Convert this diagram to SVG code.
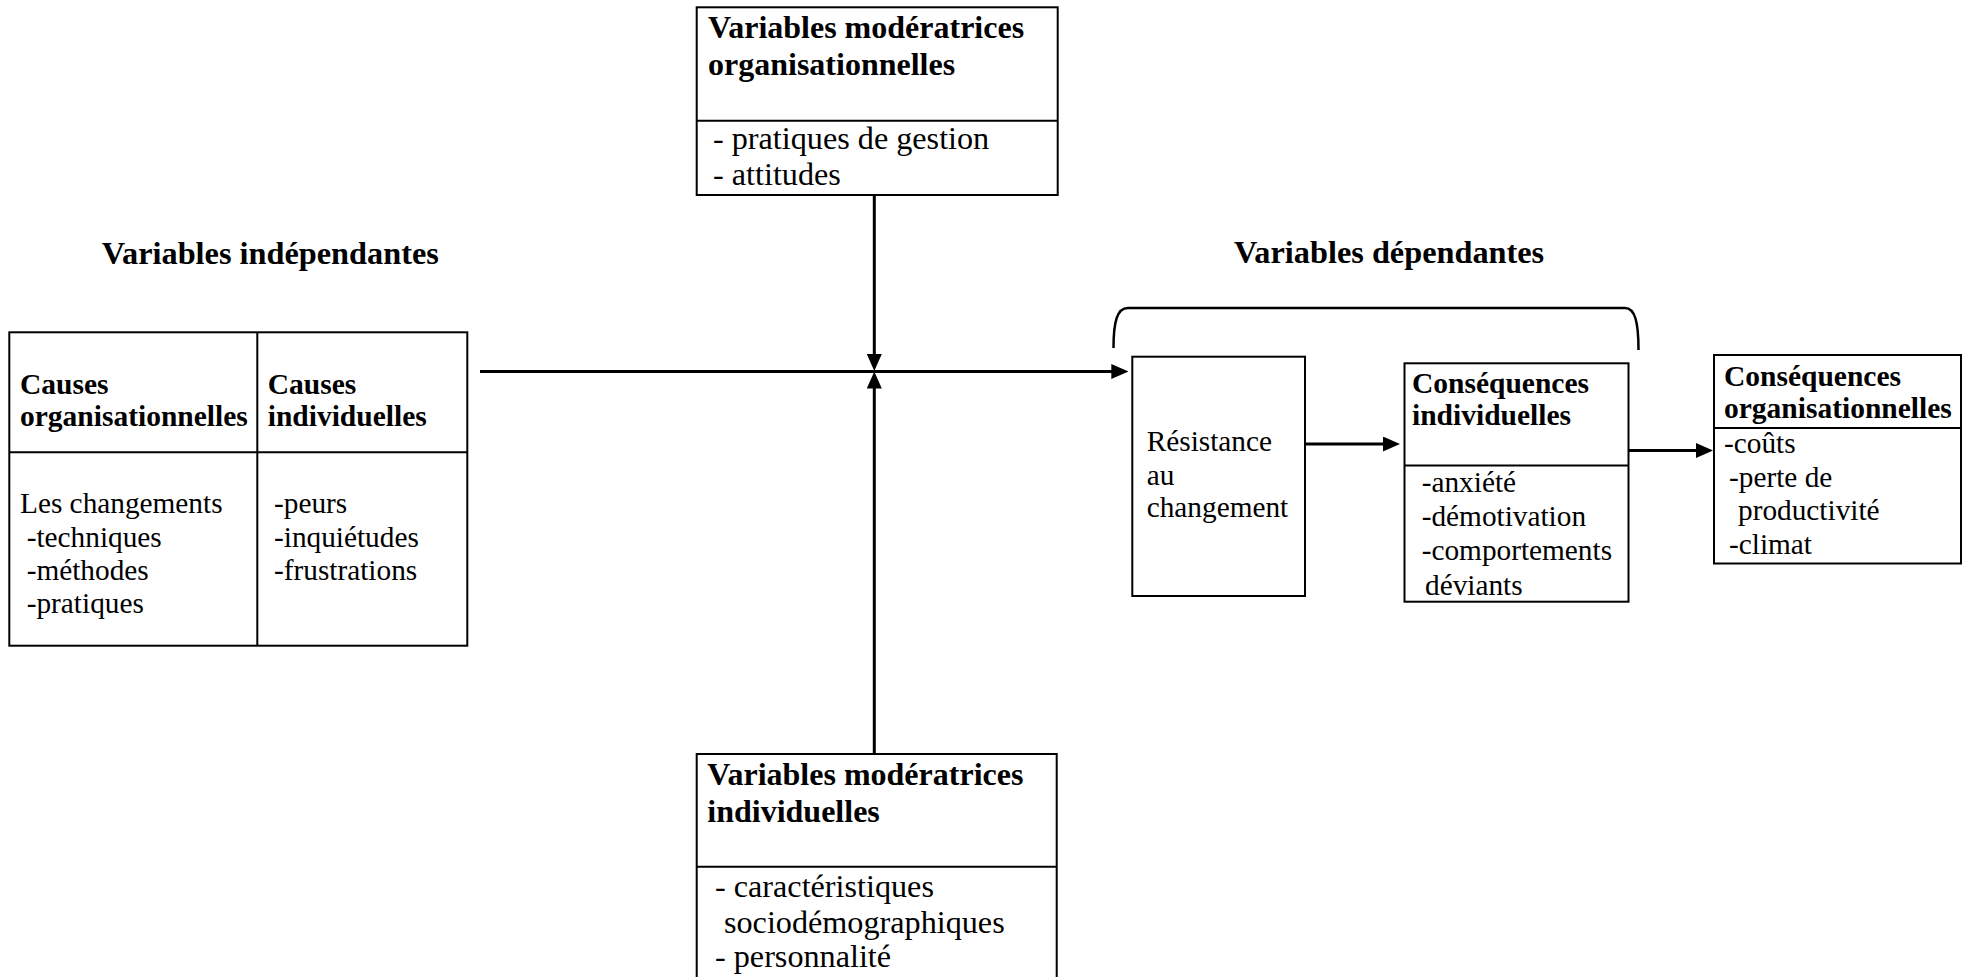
<svg xmlns="http://www.w3.org/2000/svg" width="1968" height="977" viewBox="0 0 1968 977">
  <defs>
    <style>
      .box { fill: #fff; stroke: #000; stroke-width: 2; }
      .div { stroke: #000; stroke-width: 2; fill: none; }
      .conn { stroke: #000; stroke-width: 3; fill: none; }
      .brace { stroke: #000; stroke-width: 2.5; fill: none; }
      text { font-family: "Liberation Serif", "Times New Roman", serif; fill: #000; }
      .title { font-weight: bold; font-size: 32.3px; }
      .hmid { font-weight: bold; font-size: 32px; }
      .bmid { font-size: 32.2px; }
      .hsm { font-weight: bold; font-size: 29.5px; }
      .bsm { font-size: 29.3px; }
    </style>
    <marker id="arrow" markerUnits="userSpaceOnUse" markerWidth="17" markerHeight="15" viewBox="0 0 17 15" refX="1" refY="7.5" orient="auto">
      <path d="M0,0 L17,7.5 L0,15 z" fill="#000"/>
    </marker>
  </defs>

  <rect width="1968" height="977" fill="#fff"/>

  <!-- section titles -->
  <text class="title" x="101.7" y="264">Variables indépendantes</text>
  <text class="title" x="1234" y="263.3">Variables dépendantes</text>

  <!-- brace over the dependent variables -->
  <path class="brace" d="M1113.5,348 C1113.5,322 1117,308 1128,308 L1625,308 C1635,308 1638.5,322 1638.5,350"/>

  <!-- connectors -->
  <g id="connectors">
    <path class="conn" d="M480,371.5 H1112.3" marker-end="url(#arrow)"/>
    <path class="conn" d="M874.3,195 V355" marker-end="url(#arrow)"/>
    <path class="conn" d="M874.3,754 V387.5" marker-end="url(#arrow)"/>
    <path class="conn" d="M1305,444 H1384" marker-end="url(#arrow)"/>
    <path class="conn" d="M1628.5,450.5 H1697" marker-end="url(#arrow)"/>
  </g>

  <!-- organisational moderating variables -->
  <g id="mod-org">
    <rect class="box" x="696.7" y="7.3" width="361" height="187.7"/>
    <line class="div" x1="696.7" y1="120.7" x2="1057.7" y2="120.7"/>
    <text class="hmid" x="708" y="38">Variables modératrices</text>
    <text class="hmid" x="708" y="74.5">organisationnelles</text>
    <text class="bmid" x="713" y="149">- pratiques de gestion</text>
    <text class="bmid" x="713" y="185">- attitudes</text>
  </g>

  <!-- individual moderating variables -->
  <g id="mod-ind">
    <rect class="box" x="696.7" y="754" width="360" height="300"/>
    <line class="div" x1="696.7" y1="866.7" x2="1056.7" y2="866.7"/>
    <text class="hmid" x="707.3" y="785">Variables modératrices</text>
    <text class="hmid" x="707.3" y="821.7">individuelles</text>
    <text class="bmid" x="715" y="896.7">- caractéristiques</text>
    <text class="bmid" x="724" y="932.7">sociodémographiques</text>
    <text class="bmid" x="715" y="966.7">- personnalité</text>
  </g>

  <!-- causes (independent variables) -->
  <g id="causes">
    <rect class="box" x="9.3" y="332.3" width="458" height="313.4"/>
    <line class="div" x1="257.3" y1="332.3" x2="257.3" y2="645.7"/>
    <line class="div" x1="9.3" y1="452.3" x2="467.3" y2="452.3"/>
    <text class="hsm" x="20" y="394">Causes</text>
    <text class="hsm" x="20" y="425.5">organisationnelles</text>
    <text class="hsm" x="267.7" y="394">Causes</text>
    <text class="hsm" x="267.7" y="425.5">individuelles</text>
    <text class="bsm" x="20" y="513">Les changements</text>
    <text class="bsm" x="26.7" y="546.5">-techniques</text>
    <text class="bsm" x="26.7" y="580">-méthodes</text>
    <text class="bsm" x="26.7" y="613">-pratiques</text>
    <text class="bsm" x="274" y="513">-peurs</text>
    <text class="bsm" x="274" y="546.5">-inquiétudes</text>
    <text class="bsm" x="274" y="580">-frustrations</text>
  </g>

  <!-- resistance to change -->
  <g id="resistance">
    <rect class="box" x="1132.3" y="356.7" width="172.7" height="239.3"/>
    <text class="bsm" x="1146.7" y="450.7">Résistance</text>
    <text class="bsm" x="1146.7" y="485">au</text>
    <text class="bsm" x="1146.7" y="516.7">changement</text>
  </g>

  <!-- individual consequences -->
  <g id="cons-ind">
    <rect class="box" x="1404.5" y="363.3" width="224" height="238.4"/>
    <line class="div" x1="1404.5" y1="465.5" x2="1628.5" y2="465.5"/>
    <text class="hsm" x="1412" y="393.3">Conséquences</text>
    <text class="hsm" x="1412" y="425">individuelles</text>
    <text class="bsm" x="1421.7" y="491.7">-anxiété</text>
    <text class="bsm" x="1421.7" y="526">-démotivation</text>
    <text class="bsm" x="1421.7" y="560">-comportements</text>
    <text class="bsm" x="1425" y="595">déviants</text>
  </g>

  <!-- organisational consequences -->
  <g id="cons-org">
    <rect class="box" x="1714" y="355" width="247" height="208.5"/>
    <line class="div" x1="1714" y1="428" x2="1961" y2="428"/>
    <text class="hsm" x="1724" y="386">Conséquences</text>
    <text class="hsm" x="1724" y="418">organisationnelles</text>
    <text class="bsm" x="1724" y="453">-coûts</text>
    <text class="bsm" x="1729" y="487">-perte de</text>
    <text class="bsm" x="1738" y="520">productivité</text>
    <text class="bsm" x="1729" y="554">-climat</text>
  </g>
</svg>
